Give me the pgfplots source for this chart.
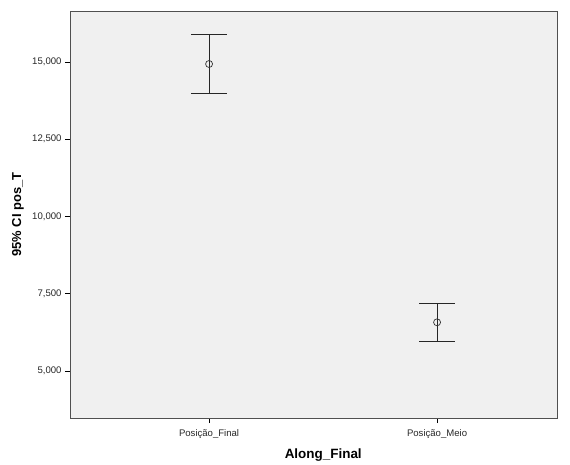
\documentclass[border=0pt]{standalone}
\usepackage{pgfplots}
\pgfplotsset{compat=1.18}
\usepackage{fontspec}
\setmainfont{Liberation Sans}
\definecolor{bg}{RGB}{240,240,240}
\definecolor{frame}{RGB}{80,80,80}
\begin{document}
\begin{tikzpicture}
\begin{axis}[
  scale only axis, width=487bp, height=407bp,
  xmin=-0.61, xmax=1.526, ymin=3479, ymax=16650,
  axis background/.style={fill=bg},
  axis line style={draw=frame, line width=0.9pt},
  xtick={0,1}, xticklabels={Posição\_Final, Posição\_Meio},
  ytick={5000,7500,10000,12500,15000},
  scaled y ticks=false,
  yticklabel style={/pgf/number format/.cd, fixed, precision=0, 1000 sep={,}, assume math mode=true},
  tick align=outside, tick pos=left, major tick length=5bp,
  tick style={draw=black, line width=0.7pt},
  ticklabel style={font=\fontsize{9.6}{11}\selectfont, text=black!85},
  xticklabel style={yshift=-3bp},
  ylabel={95\% CI pos\_T}, xlabel={Along\_Final},
  every axis y label/.style={at={(axis description cs:-0.107,0.5)}, rotate=90, anchor=center, font=\fontsize{13}{15}\selectfont\bfseries},
  every axis x label/.style={at={(axis description cs:0.52,-0.091)}, anchor=center, font=\fontsize{13.5}{15}\selectfont\bfseries},
  clip=false,
]
\addplot[only marks, mark=o, mark size=3.5bp,
  mark options={draw=black!80, fill=bg, line width=0.7pt},
  error bars/.cd, y dir=both, y explicit,
  error bar style={line width=0.8pt, black!85},
  error mark options={rotate=90, mark size=17.8bp, line width=0.8pt, black!85}]
coordinates {
  (0,14935) += (0,961) -= (0,961)
  (1,6576) += (0,602) -= (0,615)
};
\coordinate (bl) at (rel axis cs:0,0);
\coordinate (tr) at (rel axis cs:1,1);
\end{axis}
\path ([shift={(-70bp,-46bp)}]bl) rectangle ([shift={(13bp,11bp)}]tr);
\end{tikzpicture}
\end{document}
